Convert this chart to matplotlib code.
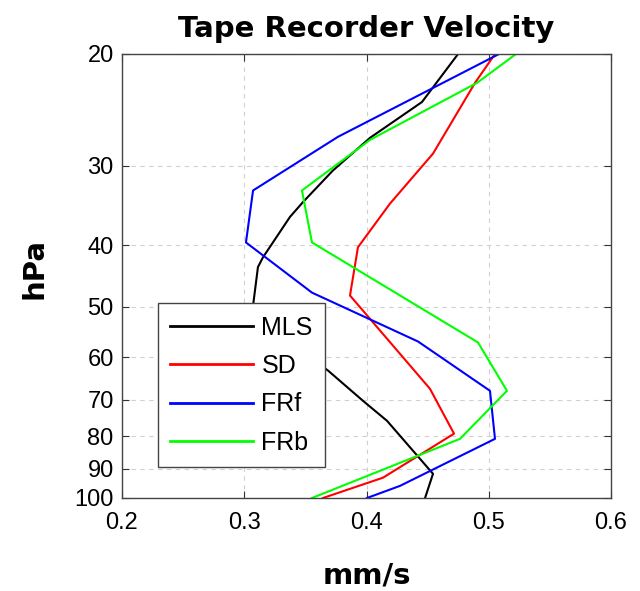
import matplotlib
matplotlib.use("Agg")
import matplotlib.pyplot as plt
from matplotlib.ticker import FixedLocator, FixedFormatter, NullLocator

plt.rcParams['font.family'] = ['Liberation Sans', 'DejaVu Sans']

# Data (x: mm/s, p: hPa)
mls_p = [20, 23.8, 27.1, 30.5, 34.2, 36.1, 41.8, 43.3, 49.8, 53.5, 58.6, 63.0, 70.3, 75.6, 91.6, 100]
mls_v = [0.4749, 0.4454, 0.4029, 0.3726, 0.3481, 0.3374, 0.3153, 0.3112, 0.3072, 0.3088, 0.3456, 0.3685, 0.3971, 0.4168, 0.4544, 0.4479]

sd_p = [20, 22.2, 28.7, 34.4, 40.3, 48.0, 67.3, 79.2, 92.9, 100]
sd_v = [0.5051, 0.4888, 0.4544, 0.4192, 0.3930, 0.3865, 0.4519, 0.4716, 0.4135, 0.3644]

frf_p = [20, 27.0, 32.8, 39.6, 47.5, 56.7, 67.8, 80.7, 95.7, 100]
frf_v = [0.5084, 0.3767, 0.3072, 0.3014, 0.3554, 0.4421, 0.5010, 0.5051, 0.4274, 0.4004]

frb_p = [20, 22.2, 27.3, 32.8, 39.6, 56.9, 67.8, 80.7, 100]
frb_v = [0.5223, 0.4905, 0.4029, 0.3472, 0.3554, 0.4912, 0.5149, 0.4765, 0.3554]

labels = ['MLS', 'SD', 'FRf', 'FRb']
colors = ['k', 'r', 'b', (0, 1, 0)]

yticks = [20, 30, 40, 50, 60, 70, 80, 90, 100]
ytick_labels = ['20', '30', '40', '50', '60', '70', '80', '90', '100']
xticks = [0.2, 0.3, 0.4, 0.5, 0.6]
xtick_labels = ['0.2', '0.3', '0.4', '0.5', '0.6']

fig = plt.figure(figsize=(6.4, 5.91), dpi=100)
ax = fig.add_axes([122/640, 1-498/591, (611-122)/640, (498-54)/591])

series = [(mls_v, mls_p), (sd_v, sd_p), (frf_v, frf_p), (frb_v, frb_p)]
for (v, p), lab, c in zip(series, labels, colors):
    ax.plot(v, p, color=c, lw=1.5, label=lab)

ax.set_yscale('log')
ax.set_ylim(100, 20)
ax.set_xlim(0.2, 0.6)
ax.yaxis.set_major_locator(FixedLocator(yticks))
ax.yaxis.set_major_formatter(FixedFormatter(ytick_labels))
ax.yaxis.set_minor_locator(NullLocator())
ax.set_xticks(xticks)
ax.set_xticklabels(xtick_labels)

ax.grid(True, which='major', linestyle=(0, (4, 4)), color='#d0d0d0', lw=0.8)
ax.set_axisbelow(True)
ax.tick_params(direction='in', length=5, width=0.8, top=True, right=True,
               labelsize=17, colors='#333333', labelcolor='black', pad=6)
ax.tick_params(axis='x', pad=10)
for s in ax.spines.values():
    s.set_color('#444444')
    s.set_linewidth(1.0)

bold = dict(family=['DejaVu Sans'], fontweight='bold')
ax.set_title('Tape Recorder Velocity', fontsize=21, pad=12, **bold)
ax.set_xlabel('mm/s', fontsize=21, labelpad=20, **bold)
ax.set_ylabel('hPa', fontsize=21, **bold)
ax.yaxis.set_label_coords(-0.151, 0.516)

leg = ax.legend(loc='lower left', bbox_to_anchor=(0.0736, 0.0698), borderaxespad=0,
                fontsize=18, handlelength=3.3, labelspacing=0.576, borderpad=0.49,
                handletextpad=0.35, fancybox=False, framealpha=1, edgecolor='#444444')
leg.get_frame().set_linewidth(1.0)
for line in leg.get_lines():
    line.set_linewidth(2.0)

fig.savefig('out.png', dpi=100)
